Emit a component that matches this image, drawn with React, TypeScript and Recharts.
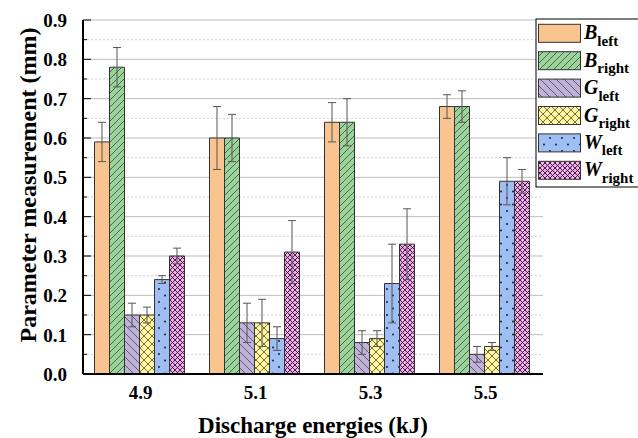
import React from 'react';
import { BarChart, Bar, XAxis, YAxis, CartesianGrid, ErrorBar, Label } from 'recharts';

const categories = ['4.9', '5.1', '5.3', '5.5'];
const bLeft = [0.59, 0.6, 0.64, 0.68];
const bLeftErr = [0.05, 0.08, 0.05, 0.03];
const bRight = [0.78, 0.6, 0.64, 0.68];
const bRightErr = [0.05, 0.06, 0.06, 0.04];
const gLeft = [0.15, 0.13, 0.08, 0.05];
const gLeftErr = [0.03, 0.05, 0.03, 0.02];
const gRight = [0.15, 0.13, 0.09, 0.07];
const gRightErr = [0.02, 0.06, 0.02, 0.01];
const wLeft = [0.24, 0.09, 0.23, 0.49];
const wLeftErr = [0.01, 0.03, 0.1, 0.06];
const wRight = [0.3, 0.31, 0.33, 0.49];
const wRightErr = [0.02, 0.08, 0.09, 0.03];
const yTicks = [0, 0.05, 0.1, 0.15, 0.2, 0.25, 0.3, 0.35, 0.4, 0.45, 0.5, 0.55, 0.6, 0.65, 0.7, 0.75, 0.8, 0.85, 0.9];

const series = [
  { key: 'bLeft', err: 'bLeftErr', letter: 'B', sub: 'left', color: '#F9C490', kind: 'solid' },
  { key: 'bRight', err: 'bRightErr', letter: 'B', sub: 'right', color: '#9AD49B', kind: 'fwd' },
  { key: 'gLeft', err: 'gLeftErr', letter: 'G', sub: 'left', color: '#C0B3DB', kind: 'back' },
  { key: 'gRight', err: 'gRightErr', letter: 'G', sub: 'right', color: '#FFF69A', kind: 'cross' },
  { key: 'wLeft', err: 'wLeftErr', letter: 'W', sub: 'left', color: '#9EBEF4', kind: 'dots' },
  { key: 'wRight', err: 'wRightErr', letter: 'W', sub: 'right', color: '#F4A5EE', kind: 'dense' },
];

const data = categories.map((cat, i) => ({
  cat,
  bLeft: bLeft[i], bLeftErr: bLeftErr[i],
  bRight: bRight[i], bRightErr: bRightErr[i],
  gLeft: gLeft[i], gLeftErr: gLeftErr[i],
  gRight: gRight[i], gRightErr: gRightErr[i],
  wLeft: wLeft[i], wLeftErr: wLeftErr[i],
  wRight: wRight[i], wRightErr: wRightErr[i],
}));

const FONT = 'Times New Roman, Liberation Serif, DejaVu Serif, serif';
const LINE = '#333';
const textStyle = { fontFamily: FONT };

function makePattern(id: string, kind: string, color: string) {
  switch (kind) {
    case 'fwd':
      return (
        <pattern key={id} id={id} width={7} height={7} patternUnits="userSpaceOnUse">
          <rect width={7} height={7} fill={color} />
          <path d="M0,7 L7,0 M-1,1 L1,-1 M6,8 L8,6" stroke={LINE} strokeWidth={0.7} />
        </pattern>
      );
    case 'back':
      return (
        <pattern key={id} id={id} width={8} height={8} patternUnits="userSpaceOnUse">
          <rect width={8} height={8} fill={color} />
          <path d="M0,0 L8,8 M-1,7 L1,9 M7,-1 L9,1" stroke={LINE} strokeWidth={0.7} />
        </pattern>
      );
    case 'cross':
      return (
        <pattern key={id} id={id} width={8} height={8} patternUnits="userSpaceOnUse">
          <rect width={8} height={8} fill={color} />
          <path d="M0,0 L8,8 M8,0 L0,8" stroke={LINE} strokeWidth={0.7} />
        </pattern>
      );
    case 'dots':
      return (
        <pattern key={id} id={id} width={12} height={13} patternUnits="userSpaceOnUse">
          <rect width={12} height={13} fill={color} />
          <circle cx={3} cy={3} r={0.9} fill="#111" />
          <circle cx={9} cy={9.5} r={0.9} fill="#111" />
        </pattern>
      );
    case 'dense':
      return (
        <pattern key={id} id={id} width={5} height={5} patternUnits="userSpaceOnUse">
          <rect width={5} height={5} fill={color} />
          <path d="M0,0 L5,5 M5,0 L0,5" stroke="#2a1a2a" strokeWidth={0.9} />
          <circle cx={2.5} cy={0} r={0.6} fill="#fbe4f8" />
          <circle cx={2.5} cy={5} r={0.6} fill="#fbe4f8" />
        </pattern>
      );
    default:
      return (
        <pattern key={id} id={id} width={4} height={4} patternUnits="userSpaceOnUse">
          <rect width={4} height={4} fill={color} />
        </pattern>
      );
  }
}

const YTick = (props: any) => {
  const { x, y, payload } = props;
  const v = payload.value as number;
  const idx = Math.round(v * 20);
  const major = idx % 2 === 0;
  const ax = x + 16;
  return (
    <g>
      <line x1={ax} y1={y} x2={ax + (major ? 8 : 4)} y2={y} stroke="#000" strokeWidth={1} />
      {major && (
        <text x={x} y={y} dy="0.36em" textAnchor="end" style={textStyle} fontWeight="bold" fontSize={19} fill="#000">
          {v.toFixed(1)}
        </text>
      )}
    </g>
  );
};

const XTick = (props: any) => {
  const { x, y, payload } = props;
  return (
    <text x={x} y={y} dy="0.9em" textAnchor="middle" style={textStyle} fontWeight="bold" fontSize={19} fill="#000">
      {payload.value}
    </text>
  );
};

const gridLine = (p: any) => {
  const steps = Math.round(((p.y + p.height - p.y1) / p.height) * 18);
  const major = steps % 2 === 0;
  return (
    <line
      key={p.key}
      x1={p.x1}
      y1={p.y1}
      x2={p.x2}
      y2={p.y2}
      stroke={major ? '#bdbdbd' : '#d4d4d4'}
      strokeWidth={1}
      strokeDasharray={major ? undefined : '2 2'}
    />
  );
};

const LegendBox = () => {
  const pitch = 27.4;
  return (
    <svg width={110} height={172} style={{ position: 'absolute', left: 535, top: 18 }}>
      <defs>{series.map((s) => makePattern('lg-' + s.key, s.kind, s.color))}</defs>
      <rect x={1} y={1} width={120} height={168} fill="#fff" stroke="#000" strokeWidth={1} />
      {series.map((s, i) => {
        const top = 6.3 + i * pitch;
        return (
          <g key={s.key}>
            <rect x={3.5} y={top} width={42} height={18} fill={`url(#lg-${s.key})`} stroke={LINE} strokeWidth={1} />
            <text x={49} y={top + 15} style={textStyle} fontWeight="bold" fill="#000">
              <tspan fontStyle="italic" fontSize={20}>{s.letter}</tspan>
              <tspan fontSize={15} dy={6.5}>{s.sub}</tspan>
            </text>
          </g>
        );
      })}
    </svg>
  );
};

export default function App() {
  return (
    <div style={{ position: 'absolute', left: 0, top: 0, width: 638, height: 438, overflow: 'hidden', background: '#fff', fontFamily: FONT }}>
      <BarChart
        width={638}
        height={438}
        data={data}
        margin={{ top: 20, right: 95, bottom: 0, left: 0 }}
        barCategoryGap="10%"
        barGap={0}
      >
        <defs>{series.map((s) => makePattern('pat-' + s.key, s.kind, s.color))}</defs>
        <CartesianGrid vertical={false} horizontal={gridLine} />
        <XAxis
          dataKey="cat"
          height={64}
          tickLine={false}
          tickSize={0}
          tickMargin={8}
          axisLine={{ stroke: '#000', strokeWidth: 2 }}
          tick={<XTick />}
        >
          <Label
            content={(p: any) => {
              const vb = p.viewBox;
              return (
                <text x={vb.x + vb.width / 2} y={vb.y + vb.height - 5} textAnchor="middle" style={textStyle} fontWeight="bold" fontSize={23} fill="#000">
                  Discharge energies (kJ)
                </text>
              );
            }}
          />
        </XAxis>
        <XAxis xAxisId="top" orientation="top" dataKey="cat" height={0} tick={false} tickLine={false} axisLine={{ stroke: '#000', strokeWidth: 2 }} />
        <YAxis
          width={83}
          domain={[0, 0.9]}
          ticks={yTicks}
          interval={0}
          tickSize={0}
          tickMargin={16}
          tickLine={false}
          axisLine={{ stroke: '#000', strokeWidth: 2 }}
          tick={<YTick />}
        >
          <Label
            content={(p: any) => {
              const vb = p.viewBox;
              const cx = vb.x + 28;
              const cy = vb.y + vb.height / 2 - 12;
              return (
                <text x={cx} y={cy} transform={`rotate(-90 ${cx} ${cy})`} textAnchor="middle" dominantBaseline="central" style={textStyle} fontWeight="bold" fontSize={24} fill="#000">
                  Parameter measurement (mm)
                </text>
              );
            }}
          />
        </YAxis>
        <YAxis yAxisId="right" orientation="right" width={0} domain={[0, 0.9]} tick={false} tickLine={false} axisLine={{ stroke: '#000', strokeWidth: 2 }} />
        {series.map((s) => (
          <Bar key={s.key} dataKey={s.key} fill={s.kind === 'solid' ? s.color : `url(#pat-${s.key})`} stroke={LINE} strokeWidth={1} isAnimationActive={false}>
            <ErrorBar dataKey={s.err} width={4} stroke="#555" strokeWidth={1} direction="y" />
          </Bar>
        ))}
      </BarChart>
      <LegendBox />
    </div>
  );
}
